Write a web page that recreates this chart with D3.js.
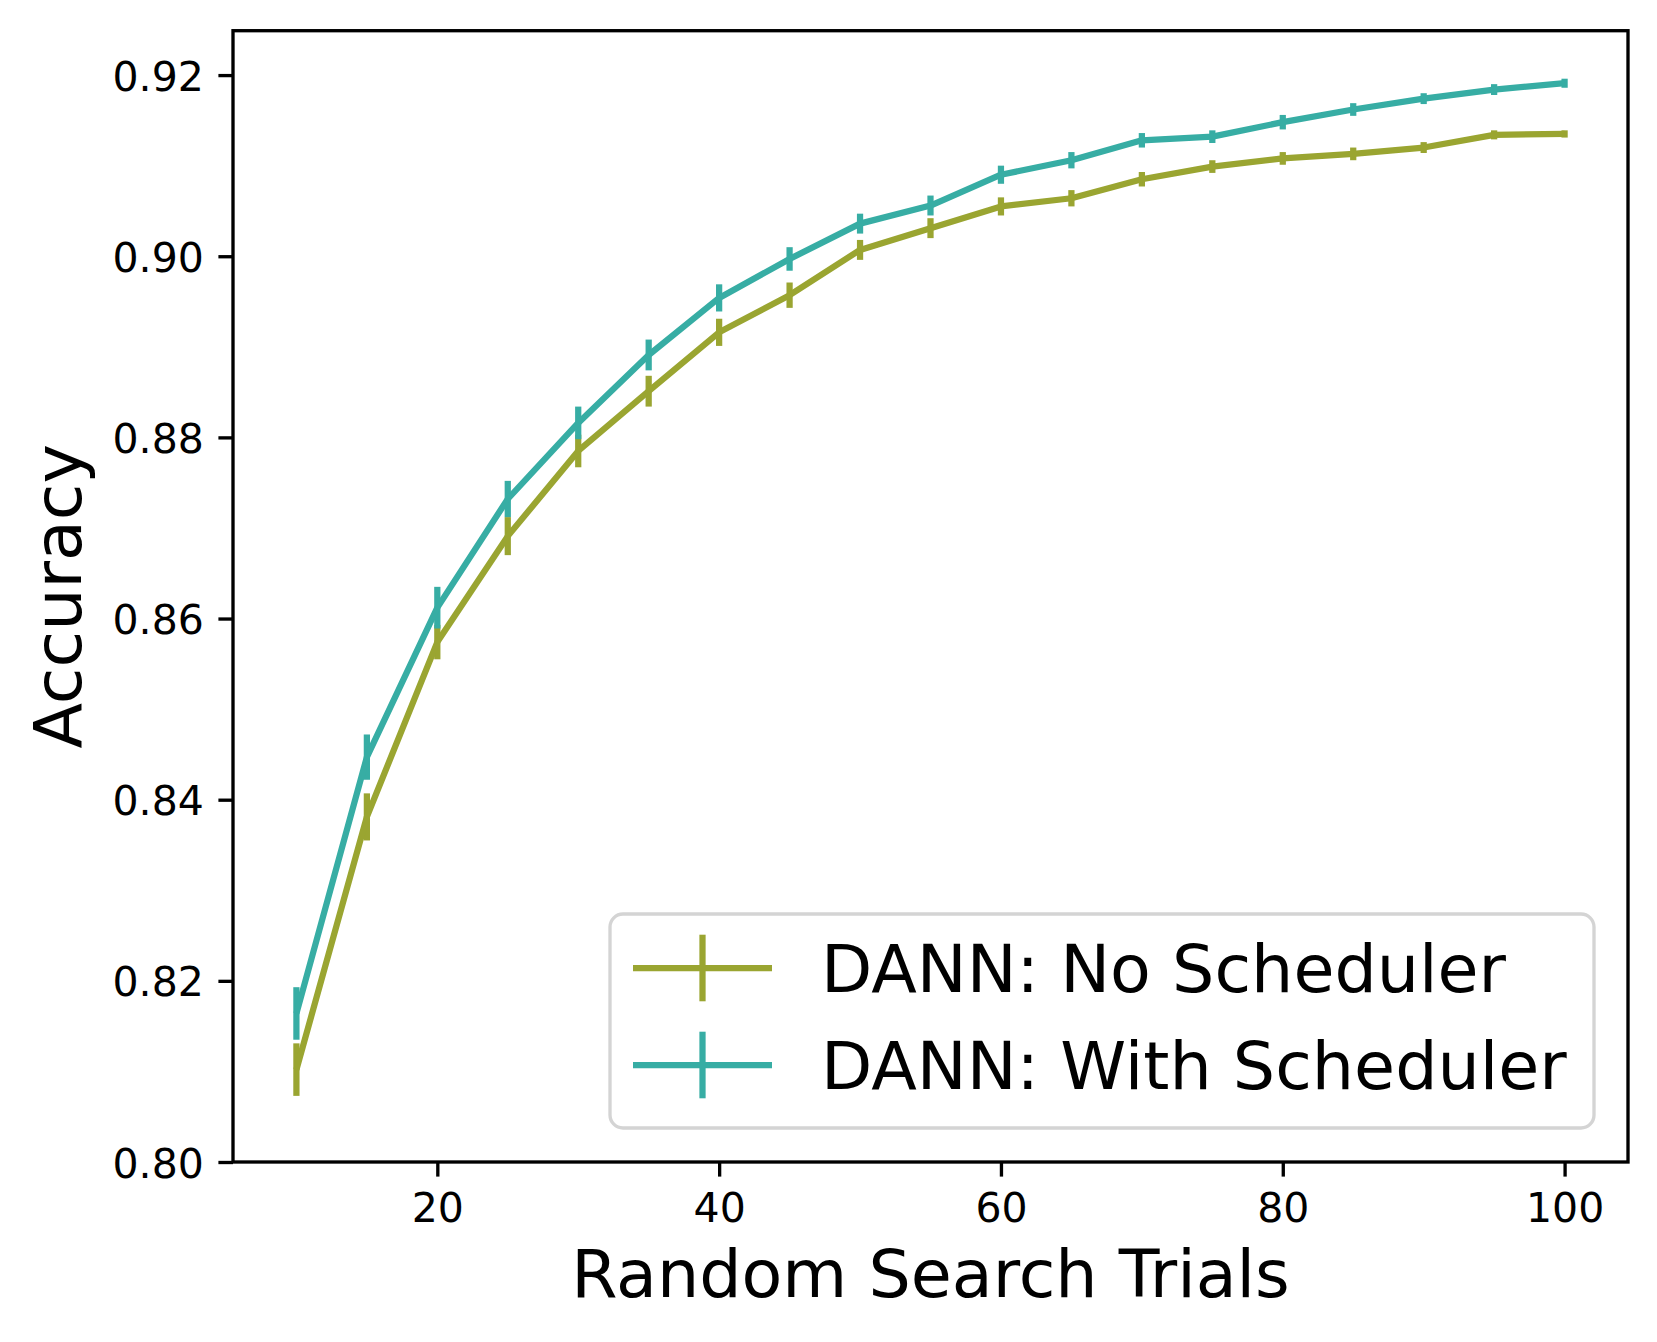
<!DOCTYPE html>
<html>
<head>
<meta charset="utf-8">
<script src="https://cdn.jsdelivr.net/npm/d3@7"></script>
<style>
  html, body { margin: 0; padding: 0; background: #ffffff; }
  svg { display: block; font-family: "DejaVu Sans", sans-serif; }
</style>
</head>
<body>
<svg id="chart" width="1657" height="1342"></svg>
<script>
// ---- data ----
const trials = [10, 15, 20, 25, 30, 35, 40, 45, 50, 55, 60, 65, 70, 75, 80, 85, 90, 95, 100];
const noSchedMean = [0.8102, 0.8381, 0.8574, 0.8691, 0.8785, 0.8851, 0.8916, 0.8957, 0.9007, 0.9031,
                     0.9055, 0.9064, 0.9085, 0.9099, 0.9108, 0.9113, 0.9120, 0.9134, 0.9135];
const noSchedErr  = [0.0029, 0.0026, 0.0019, 0.0021, 0.0018, 0.0017, 0.0015, 0.0014, 0.0011, 0.0011,
                     0.0010, 0.0009, 0.0008, 0.0007, 0.0007, 0.0007, 0.0006, 0.0005, 0.0004];
const withSchedMean = [0.8164, 0.8447, 0.8612, 0.8732, 0.8816, 0.8891, 0.8954, 0.8997, 0.9036, 0.9056,
                       0.9090, 0.9106, 0.9128, 0.9132, 0.9148, 0.9162, 0.9174, 0.9184, 0.9191];
const withSchedErr  = [0.0029, 0.0025, 0.0023, 0.0020, 0.0018, 0.0017, 0.0015, 0.0013, 0.0011, 0.0011,
                       0.0010, 0.0009, 0.0008, 0.0007, 0.0008, 0.0007, 0.0006, 0.0006, 0.0005];
const seriesNames = ["DANN: No Scheduler", "DANN: With Scheduler"];
const seriesColors = ["#9aa531", "#37ada4"];
const xTicks = [20, 40, 60, 80, 100];
const yTicks = [0.80, 0.82, 0.84, 0.86, 0.88, 0.90, 0.92];
const xLabel = "Random Search Trials";
const yLabel = "Accuracy";

// ---- layout ----
const L = 233, R = 1628, T = 30.7, B = 1162;
const LW = 6.25, AXW = 3.33, TICKLEN = 14.6;

const svg = d3.select("#chart");
const x = d3.scaleLinear().domain([5.5, 104.5]).range([L, R]);
const y = d3.scaleLinear().domain([0.80, 0.9249]).range([B, T]);

const series = [
  { name: seriesNames[0], color: seriesColors[0], mean: noSchedMean, err: noSchedErr },
  { name: seriesNames[1], color: seriesColors[1], mean: withSchedMean, err: withSchedErr }
];

const plot = svg.append("g");
const line = d3.line().x(d => x(d.x)).y(d => y(d.m));

series.forEach(s => {
  const pts = trials.map((t, i) => ({ x: t, m: s.mean[i], e: s.err[i] }));
  const g = plot.append("g");
  g.selectAll("line.err").data(pts).enter().append("line")
    .attr("class", "err")
    .attr("x1", d => x(d.x)).attr("x2", d => x(d.x))
    .attr("y1", d => y(d.m - d.e)).attr("y2", d => y(d.m + d.e))
    .attr("stroke", s.color).attr("stroke-width", LW).attr("stroke-linecap", "butt");
  g.append("path").datum(pts)
    .attr("d", line)
    .attr("fill", "none").attr("stroke", s.color).attr("stroke-width", LW)
    .attr("stroke-linejoin", "round").attr("stroke-linecap", "butt");
});

// ---- axes ----
const xAxis = d3.axisBottom(x).tickValues(xTicks).tickFormat(d3.format("d"))
  .tickSize(TICKLEN).tickPadding(14.6);
const yAxis = d3.axisLeft(y).tickValues(yTicks).tickFormat(d3.format(".2f"))
  .tickSize(TICKLEN).tickPadding(14.6);

const gx = svg.append("g").attr("transform", `translate(0,${B})`).call(xAxis);
const gy = svg.append("g").attr("transform", `translate(${L},0)`).call(yAxis);
[gx, gy].forEach(g => {
  g.select(".domain").remove();
  g.selectAll(".tick line").attr("stroke", "#000").attr("stroke-width", AXW);
  g.selectAll(".tick text").attr("fill", "#000")
    .style("font-family", "'DejaVu Sans', sans-serif").style("font-size", "41px");
});
gx.selectAll(".tick text").attr("dy", null).attr("y", null)
  .attr("transform", null).attr("dominant-baseline", "auto")
  .attr("y", 1222 - B);
gy.selectAll(".tick text").attr("dy", null).attr("dominant-baseline", "auto")
  .attr("y", 15);

// spines
svg.append("rect").attr("x", L).attr("y", T).attr("width", R - L).attr("height", B - T)
  .attr("fill", "none").attr("stroke", "#000").attr("stroke-width", AXW)
  .attr("stroke-linejoin", "miter");

// axis labels
svg.append("text").attr("x", (L + R) / 2).attr("y", 1297)
  .attr("text-anchor", "middle").style("font-size", "66.7px").attr("fill", "#000")
  .text(xLabel);
svg.append("text").attr("transform", `translate(81,${(T + B) / 2}) rotate(-90)`)
  .attr("text-anchor", "middle").style("font-size", "66.7px").attr("fill", "#000")
  .text(yLabel);

// ---- legend ----
const leg = svg.append("g");
leg.append("rect").attr("x", 610).attr("y", 914).attr("width", 984).attr("height", 214)
  .attr("rx", 13).attr("ry", 13)
  .attr("fill", "#ffffff").attr("fill-opacity", 0.8)
  .attr("stroke", "#d4d4d4").attr("stroke-width", AXW);
const rowY = [968, 1065];
series.forEach((s, i) => {
  const yy = rowY[i];
  leg.append("line").attr("x1", 633).attr("x2", 772).attr("y1", yy).attr("y2", yy)
    .attr("stroke", s.color).attr("stroke-width", LW);
  leg.append("line").attr("x1", 702.5).attr("x2", 702.5).attr("y1", yy - 33.3).attr("y2", yy + 33.3)
    .attr("stroke", s.color).attr("stroke-width", LW);
  leg.append("text").attr("x", 821).attr("y", yy + 23.5)
    .style("font-size", "66.7px").attr("fill", "#000").text(s.name);
});
</script>
</body>
</html>
